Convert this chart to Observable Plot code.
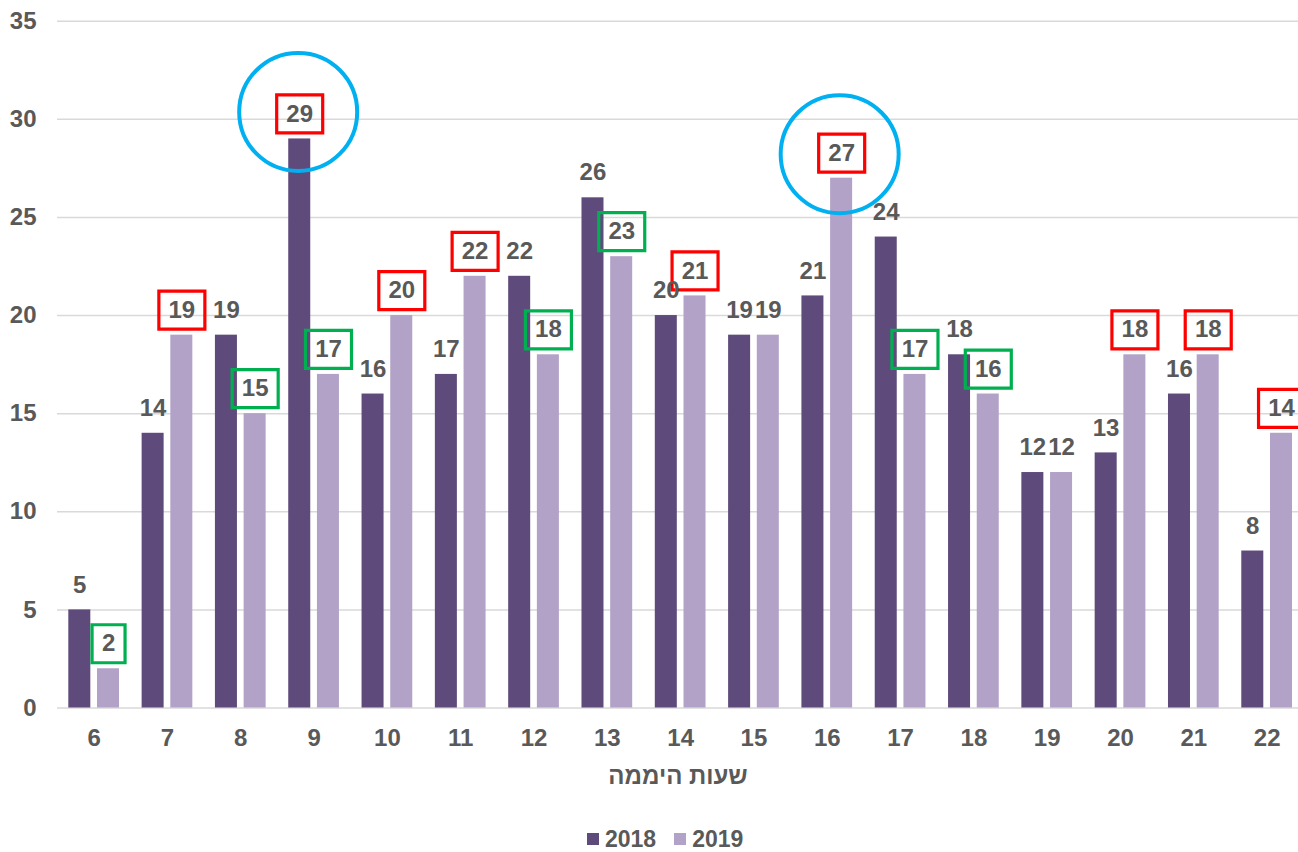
<!DOCTYPE html>
<html><head><meta charset="utf-8">
<script src="https://cdn.jsdelivr.net/npm/d3@7"></script>
<script src="https://cdn.jsdelivr.net/npm/@observablehq/plot@0.6"></script>
<style>
body{margin:0;background:#fff;font-family:"Liberation Sans",Arial,sans-serif;}
#wrap{position:relative;width:1298px;height:852px;}
#legend{position:absolute;left:587px;top:830px;display:flex;align-items:center;font-weight:bold;font-size:23px;color:#595959;line-height:18px;height:18px;}
#legend .item{display:flex;align-items:center;margin-right:18px;}
#legend .sw{width:12px;height:12px;display:inline-block;margin-right:6px;}
</style></head><body><div id="wrap"><div id="chart"></div><div id="legend"></div></div>
<script>
const hours = [6, 7, 8, 9, 10, 11, 12, 13, 14, 15, 16, 17, 18, 19, 20, 21, 22];
const series = ["2018", "2019"];
const values2018 = [5, 14, 19, 29, 16, 17, 22, 26, 20, 19, 21, 24, 18, 12, 13, 16, 8];
const values2019 = [2, 19, 15, 17, 20, 22, 18, 23, 21, 19, 27, 17, 16, 12, 18, 18, 14];
// label box colours ("" = no box)
const boxes2018 = ["", "", "", "#ff0000", "", "", "", "", "", "", "", "", "", "", "", "", ""];
const boxes2019 = ["#00b050", "#ff0000", "#00b050", "#00b050", "#ff0000", "#ff0000", "#00b050", "#00b050", "#ff0000", "", "#ff0000", "#00b050", "#00b050", "", "#ff0000", "#ff0000", "#ff0000"];
// highlighted (circled) labels
const circledHours = [9, 16];
const circledSeries = ["2018", "2019"];
const seriesColors = ["#5f4b7b", "#b3a2c7"];
const yTicks = [0, 5, 10, 15, 20, 25, 30, 35];
const xTitle = "שעות היממה";

const rows = [];
hours.forEach((h, i) => {
  rows.push({hour: h, series: series[0], value: values2018[i], box: boxes2018[i]});
  rows.push({hour: h, series: series[1], value: values2019[i], box: boxes2019[i]});
});
const s18 = rows.filter(d => d.series === series[0]);
const s19 = rows.filter(d => d.series === series[1]);
const circ = circledHours.map((h, i) => rows.find(d => d.hour === h && d.series === circledSeries[i]));

const textColor = "#595959";
const font = {fontSize: 24, fontWeight: "bold", fill: textColor};
const OFF = 14.4, LDY = -25;
const boxSym = w => ({draw(ctx) { ctx.rect(-w / 2, -19, w, 38); }});
const narrow = boxSym(33), wide = boxSym(46);

function boxMarks(data, dx) {
  const b = data.filter(d => d.box);
  return [
    Plot.dot(b.filter(d => String(d.value).length < 2), {x: "hour", y: "value", dx, dy: LDY, symbol: narrow, r: 5, fill: "none", stroke: d => d.box, strokeWidth: 3.2}),
    Plot.dot(b.filter(d => String(d.value).length >= 2), {x: "hour", y: "value", dx, dy: LDY, symbol: wide, r: 5, fill: "none", stroke: d => d.box, strokeWidth: 3.2})
  ];
}

const chart = Plot.plot({
  width: 1298,
  height: 810,
  marginLeft: 57,
  marginRight: 0,
  marginTop: 21,
  marginBottom: 102.5,
  style: {fontFamily: "'Liberation Sans', Arial, sans-serif", background: "#fff"},
  x: {type: "band", domain: hours, range: [57, 1303.3], padding: 0, round: false},
  y: {domain: [0, 35], range: [707.5, 20.7]},
  marks: [
    Plot.ruleY(yTicks, {stroke: "#d9d9d9", strokeWidth: 1.5}),
    Plot.barY(s18, {x: "hour", y: "value", fill: seriesColors[0], insetLeft: 11.3, insetRight: 40}),
    Plot.barY(s19, {x: "hour", y: "value", fill: seriesColors[1], insetLeft: 40, insetRight: 11.3}),
    ...boxMarks(s18, -OFF),
    ...boxMarks(s19, OFF),
    Plot.text(s18, {x: "hour", y: "value", text: d => String(d.value), dx: -OFF, dy: LDY, ...font}),
    Plot.text(s19, {x: "hour", y: "value", text: d => String(d.value), dx: OFF, dy: LDY, ...font}),
    Plot.dot(circ.filter(d => d.series === series[0]), {x: "hour", y: "value", dx: -OFF - 1.5, dy: LDY - 2, r: 59, fill: "none", stroke: "#00b0f0", strokeWidth: 4}),
    Plot.dot(circ.filter(d => d.series === series[1]), {x: "hour", y: "value", dx: OFF - 2, dy: LDY + 1, r: 59, fill: "none", stroke: "#00b0f0", strokeWidth: 4}),
    Plot.axisY(yTicks, {tickSize: 0, tickPadding: 21, label: null, ...font}),
    Plot.axisX({tickSize: 0, tickPadding: 21, label: null, ...font}),
    Plot.text([xTitle], {frameAnchor: "bottom", lineAnchor: "middle", dy: 68.5, ...font})
  ]
});
document.getElementById("chart").appendChild(chart);

const legend = document.getElementById("legend");
series.forEach((s, i) => {
  const item = document.createElement("div");
  item.className = "item";
  const sw = document.createElement("span");
  sw.className = "sw";
  sw.style.background = seriesColors[i];
  const t = document.createElement("span");
  t.textContent = s;
  item.appendChild(sw); item.appendChild(t);
  legend.appendChild(item);
});
</script></body></html>
